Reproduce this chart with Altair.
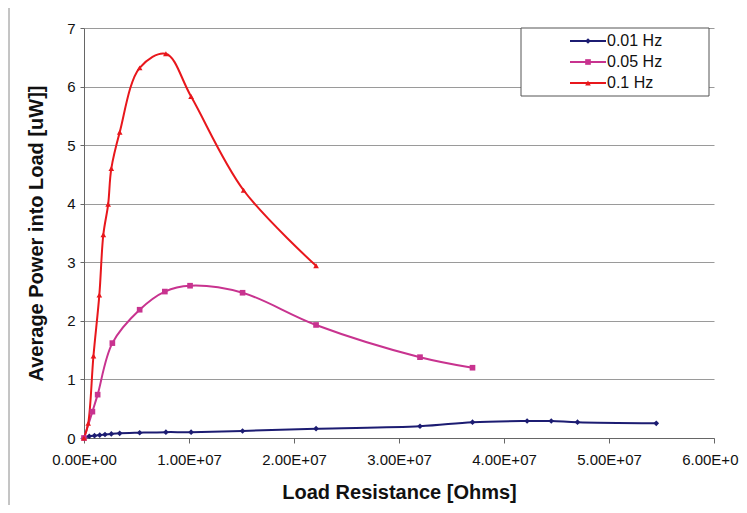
import altair as alt
import pandas as pd

series_names = ["0.01 Hz", "0.05 Hz", "0.1 Hz"]
colors = ["#1c1c72", "#c8338f", "#e8171c"]
shapes = ["diamond", "square", "triangle-up"]

blue_x = [0, 0.5e6, 1.0e6, 1.5e6, 2.0e6, 2.6e6, 3.4e6, 5.3e6, 7.8e6, 1.02e7, 1.51e7, 2.21e7, 3.2e7, 3.7e7, 4.22e7, 4.45e7, 4.7e7, 5.45e7]
blue_y = [0.0, 0.03, 0.04, 0.05, 0.06, 0.07, 0.08, 0.09, 0.10, 0.10, 0.12, 0.16, 0.20, 0.27, 0.29, 0.29, 0.27, 0.25]

pink_x = [0, 0.8e6, 1.3e6, 2.7e6, 5.3e6, 7.7e6, 1.01e7, 1.51e7, 2.21e7, 3.2e7, 3.7e7]
pink_y = [0.0, 0.45, 0.74, 1.62, 2.19, 2.50, 2.60, 2.48, 1.93, 1.38, 1.20]

red_x = [0, 0.4e6, 0.9e6, 1.46e6, 1.84e6, 2.3e6, 2.6e6, 3.4e6, 5.3e6, 7.8e6, 1.02e7, 1.52e7, 2.21e7]
red_y = [0.0, 0.25, 1.40, 2.44, 3.47, 3.99, 4.60, 5.22, 6.32, 6.56, 5.83, 4.23, 2.94]

x_ticks = [0, 1e7, 2e7, 3e7, 4e7, 5e7, 6e7]
y_ticks = [0, 1, 2, 3, 4, 5, 6, 7]

rows = []
for name, xs, ys in zip(series_names, [blue_x, pink_x, red_x], [blue_y, pink_y, red_y]):
    for i, (a, b) in enumerate(zip(xs, ys)):
        rows.append({"Series": name, "R": a, "P": b, "order": i})
df = pd.DataFrame(rows)

legend_df = pd.DataFrame({"Series": series_names, "row": list(range(len(series_names)))})

color_scale = alt.Scale(domain=series_names, range=colors)
shape_scale = alt.Scale(domain=series_names, range=shapes)

FONT = "Liberation Sans"

sci_label = ("datum.value == 0 ? '0.00E+00' : "
             "format(datum.value / pow(10, floor(log(datum.value) / LN10)), '.2f') + 'E+' + "
             "(floor(log(datum.value) / LN10) < 10 ? '0' : '') + floor(log(datum.value) / LN10)")

x_enc = alt.X("R:Q", scale=alt.Scale(domain=[0, 6e7], nice=False),
              axis=alt.Axis(values=x_ticks, labelExpr=sci_label, labelFlush=False,
                            title="Load Resistance [Ohms]", grid=False, tickSize=5,
                            labelPadding=9, titlePadding=15))
y_enc = alt.Y("P:Q", scale=alt.Scale(domain=[0, 7], nice=False),
              axis=alt.Axis(values=y_ticks, format="d", labelFlush=False,
                            title="Average Power into Load [uW]]", grid=True, tickSize=4,
                            labelPadding=5, titlePadding=20))

lines = alt.Chart(df).mark_line(interpolate="catmull-rom", strokeWidth=2).encode(
    x=x_enc, y=y_enc,
    color=alt.Color("Series:N", scale=color_scale, legend=None),
    order="order:Q",
)
points = alt.Chart(df).mark_point(filled=True, size=32, opacity=1).encode(
    x="R:Q", y="P:Q",
    color=alt.Color("Series:N", scale=color_scale, legend=None),
    shape=alt.Shape("Series:N", scale=shape_scale, legend=None),
)
main = alt.layer(lines, points)

# outer chart frame (left and top edges visible)
frame = alt.Chart(legend_df).mark_rect(fill=None, stroke="#8a8a8a", strokeWidth=1).encode(
    x=alt.value(-75), x2=alt.value(760), y=alt.value(-23), y2=alt.value(600)
).transform_filter("datum.row == 0")

# Excel-style legend
leg_box = alt.Chart(legend_df).mark_rect(fill="white", stroke="#555", strokeWidth=1).encode(
    x=alt.value(437), x2=alt.value(625), y=alt.value(0), y2=alt.value(68)
).transform_filter("datum.row == 0")
leg_y = alt.Y("row:Q", scale=alt.Scale(domain=[0, 2], range=[13, 55], nice=False, zero=False), axis=None)
leg_line = alt.Chart(legend_df).mark_rule(strokeWidth=2).encode(
    x=alt.value(486), x2=alt.value(522), y=leg_y,
    color=alt.Color("Series:N", scale=color_scale, legend=None),
)
leg_pt = alt.Chart(legend_df).mark_point(filled=True, size=32, opacity=1).encode(
    x=alt.value(504), y=leg_y,
    color=alt.Color("Series:N", scale=color_scale, legend=None),
    shape=alt.Shape("Series:N", scale=shape_scale, legend=None),
)
leg_txt = alt.Chart(legend_df).mark_text(align="left", baseline="middle", fontSize=16, font=FONT, color="#111").encode(
    x=alt.value(523), y=leg_y, text="Series:N",
)
legend_layer = alt.layer(leg_box, leg_line, leg_pt, leg_txt)

chart = alt.layer(frame, main, legend_layer).resolve_scale(y="independent").properties(
    width=630, height=410,
    background="white",
    autosize=alt.AutoSizeParams(type="none"),
    padding={"left": 76, "top": 20, "right": 25, "bottom": 67},
).configure_view(stroke=None).configure_axis(
    labelFont=FONT, titleFont=FONT, labelFontSize=15, titleFontSize=20, titleFontWeight="bold",
    labelColor="#111", titleColor="#111", domainColor="#666", tickColor="#666",
    gridColor="#9a9a9a", gridWidth=1,
)

chart.save("out.html", embed_options={"renderer": "svg", "actions": False})
